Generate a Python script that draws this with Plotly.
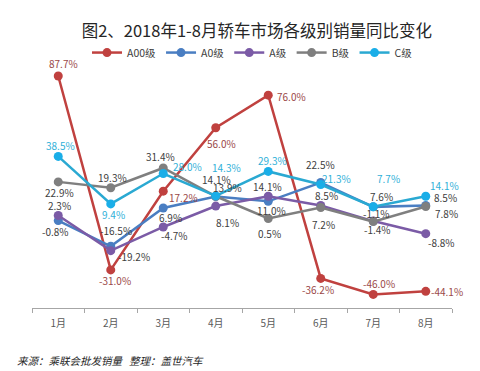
import plotly.graph_objects as go

months = ["1月", "2月", "3月", "4月", "5月", "6月", "7月", "8月"]
series_names = ["A00级", "A0级", "A级", "B级", "C级"]
a00 = [87.7, -31.0, 17.2, 56.0, 76.0, -36.2, -46.0, -44.1]
a0 = [-0.8, -16.5, 6.9, 13.9, 11.0, 22.5, 7.6, 8.5]
a = [2.3, -19.2, -4.7, 8.1, 14.1, 8.5, -1.1, -8.8]
b = [22.9, 19.3, 31.4, 14.1, 0.5, 7.2, -1.4, 7.8]
c = [38.5, 9.4, 28.0, 14.3, 29.3, 21.3, 7.7, 14.1]
title_text = "图2、2018年1-8月轿车市场各级别销量同比变化"
source_text = "来源：乘联会批发销量   整理：盖世汽车"

values = [a00, a0, a, b, c]
line_colors = ["#C0413F", "#4A7EC2", "#7B5BA6", "#7F7F7F", "#2AA9D2"]
marker_colors = ["#C0413F", "#4A7EC2", "#7B5BA6", "#7F7F7F", "#1AAEE8"]
text_colors = ["#9A4848", "#404040", "#404040", "#404040", "#2FB0D8"]
# label pixel offsets (dx, dy up) per series / month — styling only
label_offsets = [
    [(5, 13), (4, -11), (20, -6), (6, -16), (23, -1), (-3, -11), (6, 11), (21, 0)],
    [(-3, -11), (5, 16), (7, -9), (12, 9), (3, -9), (0, 18), (8, 10), (20, 8)],
    [(1, 10), (23, -6), (11, -9), (12, -16), (-1, 10), (6, 10), (3, 8), (16, -9)],
    [(1, -11), (2, 10), (-3, 11), (1, 17), (1, -15), (3, -17), (4, -8), (21, -7)],
    [(2, 11), (3, -11), (24, 7), (11, 28), (4, 11), (16, 6), (15, 28), (19, 11)],
]

fig = go.Figure()
for name, vals, lc, mc in zip(series_names, values, line_colors, marker_colors):
    fig.add_trace(go.Scatter(
        x=months, y=vals, name=name, mode="lines+markers",
        line=dict(color=lc, width=2.5),
        marker=dict(color=mc, size=9),
        hoverinfo="skip",
    ))

annotations = []
for vals, tc, offs in zip(values, text_colors, label_offsets):
    for m, v, (dx, dy) in zip(months, vals, offs):
        annotations.append(dict(
            x=m, y=v, xref="x", yref="y", text=f"{v:.1f}%", showarrow=False,
            xanchor="center", yanchor="middle", xshift=dx, yshift=dy,
            font=dict(size=10, color=tc, family="Noto Sans CJK SC"),
        ))
annotations.append(dict(
    text=source_text, xref="paper", yref="paper", x=-0.04, xanchor="left",
    y=-0.212, yanchor="middle", showarrow=False,
    font=dict(size=10.5, color="#262626", family="Noto Sans CJK SC", style="italic"),
))

fig.update_layout(
    width=480, height=371,
    margin=dict(l=32, r=28, t=60, b=63),
    paper_bgcolor="white", plot_bgcolor="white",
    font=dict(family="Noto Sans CJK SC", color="#404040"),
    title=dict(text=title_text, x=0.535, xanchor="center", y=0.915, yanchor="middle",
               font=dict(size=16.5, color="#262626", family="Noto Sans CJK SC")),
    legend=dict(orientation="h", x=0.525, xanchor="center", y=1.03, yanchor="middle",
                font=dict(size=10.5, color="#404040"), itemwidth=30,
                bgcolor="rgba(0,0,0,0)", tracegroupgap=0),
    showlegend=True,
    xaxis=dict(type="category", range=[-0.5, 7.5], showgrid=False, zeroline=False,
               showline=True, linecolor="#A6A6A6", linewidth=1,
               ticks="outside", tickson="boundaries", ticklen=4, tickcolor="#A6A6A6",
               ticklabelstandoff=6,
               tickfont=dict(size=10, color="#595959")),
    yaxis=dict(range=[-54.3, 97.5], visible=False, showgrid=False, zeroline=False),
    annotations=annotations,
)

fig.write_html("out.html", config={"displayModeBar": False, "staticPlot": True},
               post_script="document.body.style.margin='0';document.body.style.overflow='hidden';")
